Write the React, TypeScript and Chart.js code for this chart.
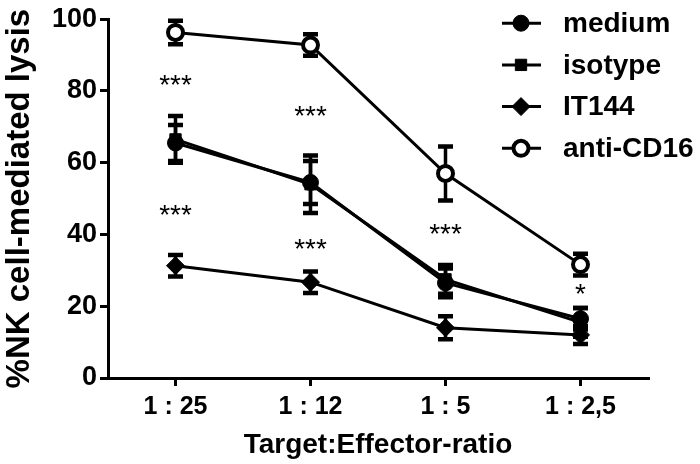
import React, { useEffect, useRef } from "react";
import { Chart, registerables } from "chart.js";
import { drawPoint } from "chart.js/helpers";

Chart.register(...registerables);

const categories = ["1 : 25", "1 : 12", "1 : 5", "1 : 2,5"];

const medium = [65.5, 54.5, 26.5, 16.5];
const mediumErr = [5, 6, 4, 3];
const isotype = [66.5, 54, 27.5, 15.5];
const isotypeErr = [6.5, 8, 4, 4];
const it144 = [31.3, 26.7, 14, 12];
const it144Err = [3, 3, 3.2, 2.5];
const antiCD16 = [96.3, 92.8, 57, 31.6];
const antiCD16Err = [3.3, 3, 7.5, 3];

const starCategory = [0, 0, 1, 1, 2, 3];
const starY = [83.6, 47.5, 75, 38, 42, 25.3];
const starText = ["***", "***", "***", "***", "***", "*"];

const yTicks = [0, 20, 40, 60, 80, 100];

const FONT = '"Liberation Sans", Arial, sans-serif';

const errorBarPlugin = {
  id: "errorBars",
  beforeDatasetsDraw(chart: any) {
    const ctx = chart.ctx;
    const y = chart.scales.y;
    chart.data.datasets.forEach((ds: any, i: number) => {
      const meta = chart.getDatasetMeta(i);
      meta.data.forEach((pt: any, j: number) => {
        const v = ds.data[j];
        const e = ds.errors[j];
        const top = y.getPixelForValue(v + e);
        const bot = y.getPixelForValue(v - e);
        ctx.save();
        ctx.strokeStyle = "#000";
        ctx.lineWidth = 3.5;
        ctx.beginPath();
        ctx.moveTo(pt.x, top);
        ctx.lineTo(pt.x, bot);
        ctx.stroke();
        ctx.lineWidth = 4.5;
        ctx.beginPath();
        ctx.moveTo(pt.x - 7.5, top);
        ctx.lineTo(pt.x + 7.5, top);
        ctx.moveTo(pt.x - 7.5, bot);
        ctx.lineTo(pt.x + 7.5, bot);
        ctx.stroke();
        ctx.restore();
      });
    });
  },
};

const starsPlugin = {
  id: "stars",
  afterDatasetsDraw(chart: any) {
    const ctx = chart.ctx;
    const x = chart.scales.x;
    const y = chart.scales.y;
    const size = 28;
    ctx.save();
    ctx.fillStyle = "#000";
    ctx.font = `${size}px ${FONT}`;
    ctx.textAlign = "center";
    ctx.textBaseline = "alphabetic";
    starText.forEach((t, k) => {
      const px = x.getPixelForValue(starCategory[k]);
      const py = y.getPixelForValue(starY[k]);
      ctx.fillText(t, px, py + 0.575 * size);
    });
    ctx.restore();
  },
};

const legendPlugin = {
  id: "customLegend",
  afterDraw(chart: any) {
    const ctx = chart.ctx;
    const area = chart.chartArea;
    ctx.save();
    chart.data.datasets.forEach((ds: any, i: number) => {
      const cy = area.top + 4 + i * 41.7;
      const x0 = area.right - 146;
      const x1 = area.right - 107;
      const mx = area.right - 127;
      ctx.strokeStyle = "#000";
      ctx.lineWidth = 3;
      ctx.beginPath();
      ctx.moveTo(x0, cy);
      ctx.lineTo(x1, cy);
      ctx.stroke();
      ctx.fillStyle = ds.pointBackgroundColor;
      ctx.strokeStyle = "#000";
      ctx.lineWidth = ds.pointBorderWidth;
      drawPoint(ctx, { pointStyle: ds.pointStyle, radius: ds.pointRadius, borderWidth: ds.pointBorderWidth, rotation: 0 }, mx, cy);
      ctx.fillStyle = "#000";
      ctx.font = `bold 28px ${FONT}`;
      ctx.textAlign = "left";
      ctx.textBaseline = "middle";
      ctx.fillText(ds.label, area.right - 85, cy + 1);
    });
    ctx.restore();
  },
};

function makeDataset(label: string, data: number[], errors: number[], style: string, radius: number, fill: string, bw: number) {
  return {
    label,
    data,
    errors,
    borderColor: "#000",
    borderWidth: 3,
    pointStyle: style,
    pointRadius: radius,
    pointBackgroundColor: fill,
    pointBorderColor: "#000",
    pointBorderWidth: bw,
    tension: 0,
    clip: false,
  } as any;
}

export default function App() {
  const ref = useRef<HTMLCanvasElement>(null);
  useEffect(() => {
    if (!ref.current) return;
    const chart = new Chart(ref.current, {
      type: "line",
      data: {
        labels: categories,
        datasets: [
          makeDataset("medium", medium, mediumErr, "circle", 8, "#000", 1),
          makeDataset("isotype", isotype, isotypeErr, "rect", 8, "#000", 1),
          makeDataset("IT144", it144, it144Err, "rectRot", 9, "#000", 1),
          makeDataset("anti-CD16", antiCD16, antiCD16Err, "circle", 7.5, "#fff", 4),
        ],
      },
      options: {
        responsive: false,
        animation: false,
        layout: { padding: { top: 18, right: 52, left: 0, bottom: 0 } },
        plugins: { legend: { display: false }, tooltip: { enabled: false } },
        scales: {
          x: {
            type: "category",
            offset: true,
            grid: { offset: false, drawOnChartArea: false, tickLength: 8, lineWidth: 3, color: "#000", tickColor: "#000" },
            border: { display: true, width: 3, color: "#000" },
            ticks: { color: "#000", font: { family: FONT, size: 25, weight: "bold" }, padding: 6, maxRotation: 0 },
            title: { display: true, text: "Target:Effector-ratio", color: "#000", font: { family: FONT, size: 28, weight: "bold" }, padding: { top: 0, bottom: 2 } },
            afterFit: (s: any) => { s.height = 86; },
          },
          y: {
            min: 0,
            max: 100,
            afterBuildTicks: (s: any) => { s.ticks = yTicks.map((v) => ({ value: v })); },
            grid: { drawOnChartArea: false, tickLength: 8, lineWidth: 3, color: "#000", tickColor: "#000" },
            border: { display: true, width: 3, color: "#000" },
            ticks: { color: "#000", font: { family: FONT, size: 27, weight: "bold" }, padding: 3 },
            title: { display: true, text: "%NK cell-mediated lysis", color: "#000", font: { family: FONT, size: 33, weight: "bold" }, padding: 0 },
            afterFit: (s: any) => { s.width = 108; },
          },
        },
      } as any,
      plugins: [errorBarPlugin, starsPlugin, legendPlugin],
    });
    return () => chart.destroy();
  }, []);
  return (
    <div style={{ position: "absolute", left: 0, top: 0, width: 700, height: 464, background: "#fff" }}>
      <canvas ref={ref} width={700} height={464} />
    </div>
  );
}
